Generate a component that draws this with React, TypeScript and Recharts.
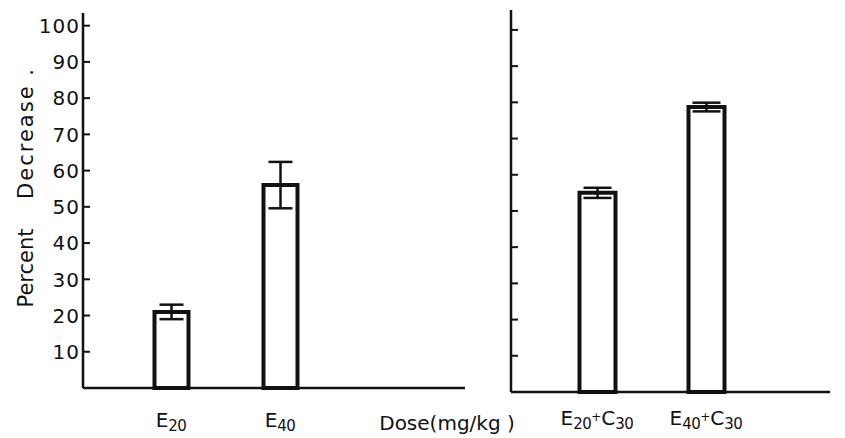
import { Bar, BarChart, ErrorBar, XAxis, YAxis } from "recharts";

const leftDoses = ["E20", "E40"];
const leftDecrease = [21, 56];
const leftError = [2, 6.4];

const rightDoses = ["E20+C30", "E40+C30"];
const rightDecrease = [55, 78.7];
const rightError = [1.4, 1.2];

const yTicks = [10, 20, 30, 40, 50, 60, 70, 80, 90, 100];

const INK = "#111";
const FONT = "'DejaVu Sans', sans-serif";

const leftData = leftDoses.map((dose, i) => ({
  dose,
  value: leftDecrease[i],
  err: leftError[i],
}));
const rightData = rightDoses.map((dose, i) => ({
  dose,
  value: rightDecrease[i],
  err: rightError[i],
}));

// "E20+C30" -> E with subscript 20, a small raised plus, C with subscript 30
function DoseTick(props: any) {
  const { x, y, payload, drop } = props;
  const pieces = String(payload.value).split("+");
  const spans: any[] = [];
  pieces.forEach((p, i) => {
    const m = p.match(/^([A-Z]+)(\d+)$/);
    if (!m) return;
    if (i > 0) {
      spans.push(
        <tspan key={"plus" + i} dy={-8} fontSize={12}>
          +
        </tspan>
      );
    }
    spans.push(
      <tspan key={"l" + i} dy={i > 0 ? 4 : 0}>
        {m[1]}
      </tspan>
    );
    spans.push(
      <tspan key={"s" + i} dy={4} fontSize={15} letterSpacing={-0.5}>
        {m[2]}
      </tspan>
    );
  });
  return (
    <text
      x={x}
      y={y + drop}
      textAnchor="middle"
      fill={INK}
      fontFamily={FONT}
      fontSize={20}
    >
      {spans}
    </text>
  );
}

// tick mark pointing into the plot, label (optional) to the left of the axis
function PercentTick(props: any) {
  const { x, y, payload, showLabel } = props;
  return (
    <g>
      <line x1={x} x2={x + 7} y1={y} y2={y} stroke={INK} strokeWidth={2} />
      {showLabel && (
        <text
          x={x - 3}
          y={y}
          dy="0.36em"
          textAnchor="end"
          fill={INK}
          fontFamily={FONT}
          fontSize={20}
          letterSpacing={1}
        >
          {payload.value}
        </text>
      )}
    </g>
  );
}

const axisLine = { stroke: INK, strokeWidth: 2.5 };

export default function App() {
  return (
    <div style={{ position: "absolute", left: 0, top: 0, width: 845, height: 438, background: "#fff" }}>
      <BarChart
        width={470}
        height={438}
        data={leftData}
        margin={{ top: 13, right: 5, bottom: 20, left: 23 }}
        style={{ position: "absolute", left: 0, top: 0 }}
      >
        <XAxis
          dataKey="dose"
          padding={{ left: 33.5, right: 130.5 }}
          axisLine={axisLine}
          tickLine={false}
          tickSize={0}
          tickMargin={0}
          interval={0}
          tick={(p: any) => <DoseTick {...p} drop={39} />}
        />
        <YAxis
          domain={[0, 103.5]}
          ticks={yTicks}
          interval={0}
          width={60}
          tickSize={0}
          tickMargin={0}
          axisLine={axisLine}
          tickLine={false}
          tick={(p: any) => <PercentTick {...p} showLabel />}
        />
        <Bar
          dataKey="value"
          barSize={34}
          fill="#fff"
          stroke={INK}
          strokeWidth={4}
          isAnimationActive={false}
        >
          <ErrorBar dataKey="err" width={12} stroke={INK} strokeWidth={2.5} />
        </Bar>
      </BarChart>

      <BarChart
        width={405}
        height={438}
        data={rightData}
        margin={{ top: 10, right: 15, bottom: 16, left: 11 }}
        style={{ position: "absolute", left: 440, top: 0 }}
      >
        <XAxis
          dataKey="dose"
          padding={{ left: 31.5, right: 69.5 }}
          axisLine={axisLine}
          tickLine={false}
          tickSize={0}
          tickMargin={0}
          interval={0}
          tick={(p: any) => <DoseTick {...p} drop={33} />}
        />
        <YAxis
          domain={[0, 105.5]}
          ticks={yTicks}
          interval={0}
          width={60}
          tickSize={0}
          tickMargin={0}
          axisLine={axisLine}
          tickLine={false}
          tick={(p: any) => <PercentTick {...p} showLabel={false} />}
        />
        <Bar
          dataKey="value"
          barSize={36}
          fill="#fff"
          stroke={INK}
          strokeWidth={4}
          isAnimationActive={false}
        >
          <ErrorBar dataKey="err" width={14} stroke={INK} strokeWidth={2.5} />
        </Bar>
      </BarChart>

      <svg
        width={845}
        height={438}
        style={{ position: "absolute", left: 0, top: 0, pointerEvents: "none" }}
      >
        <g fill={INK} fontFamily={FONT} fontSize={21}>
          <text transform="translate(33,133) rotate(-90)" textAnchor="middle" letterSpacing={2}>
            Decrease .
          </text>
          <text transform="translate(33,268) rotate(-90)" textAnchor="middle">
            Percent
          </text>
          <text x={447} y={430} textAnchor="middle" fontSize={20}>
            Dose(mg/kg )
          </text>
        </g>
      </svg>
    </div>
  );
}
